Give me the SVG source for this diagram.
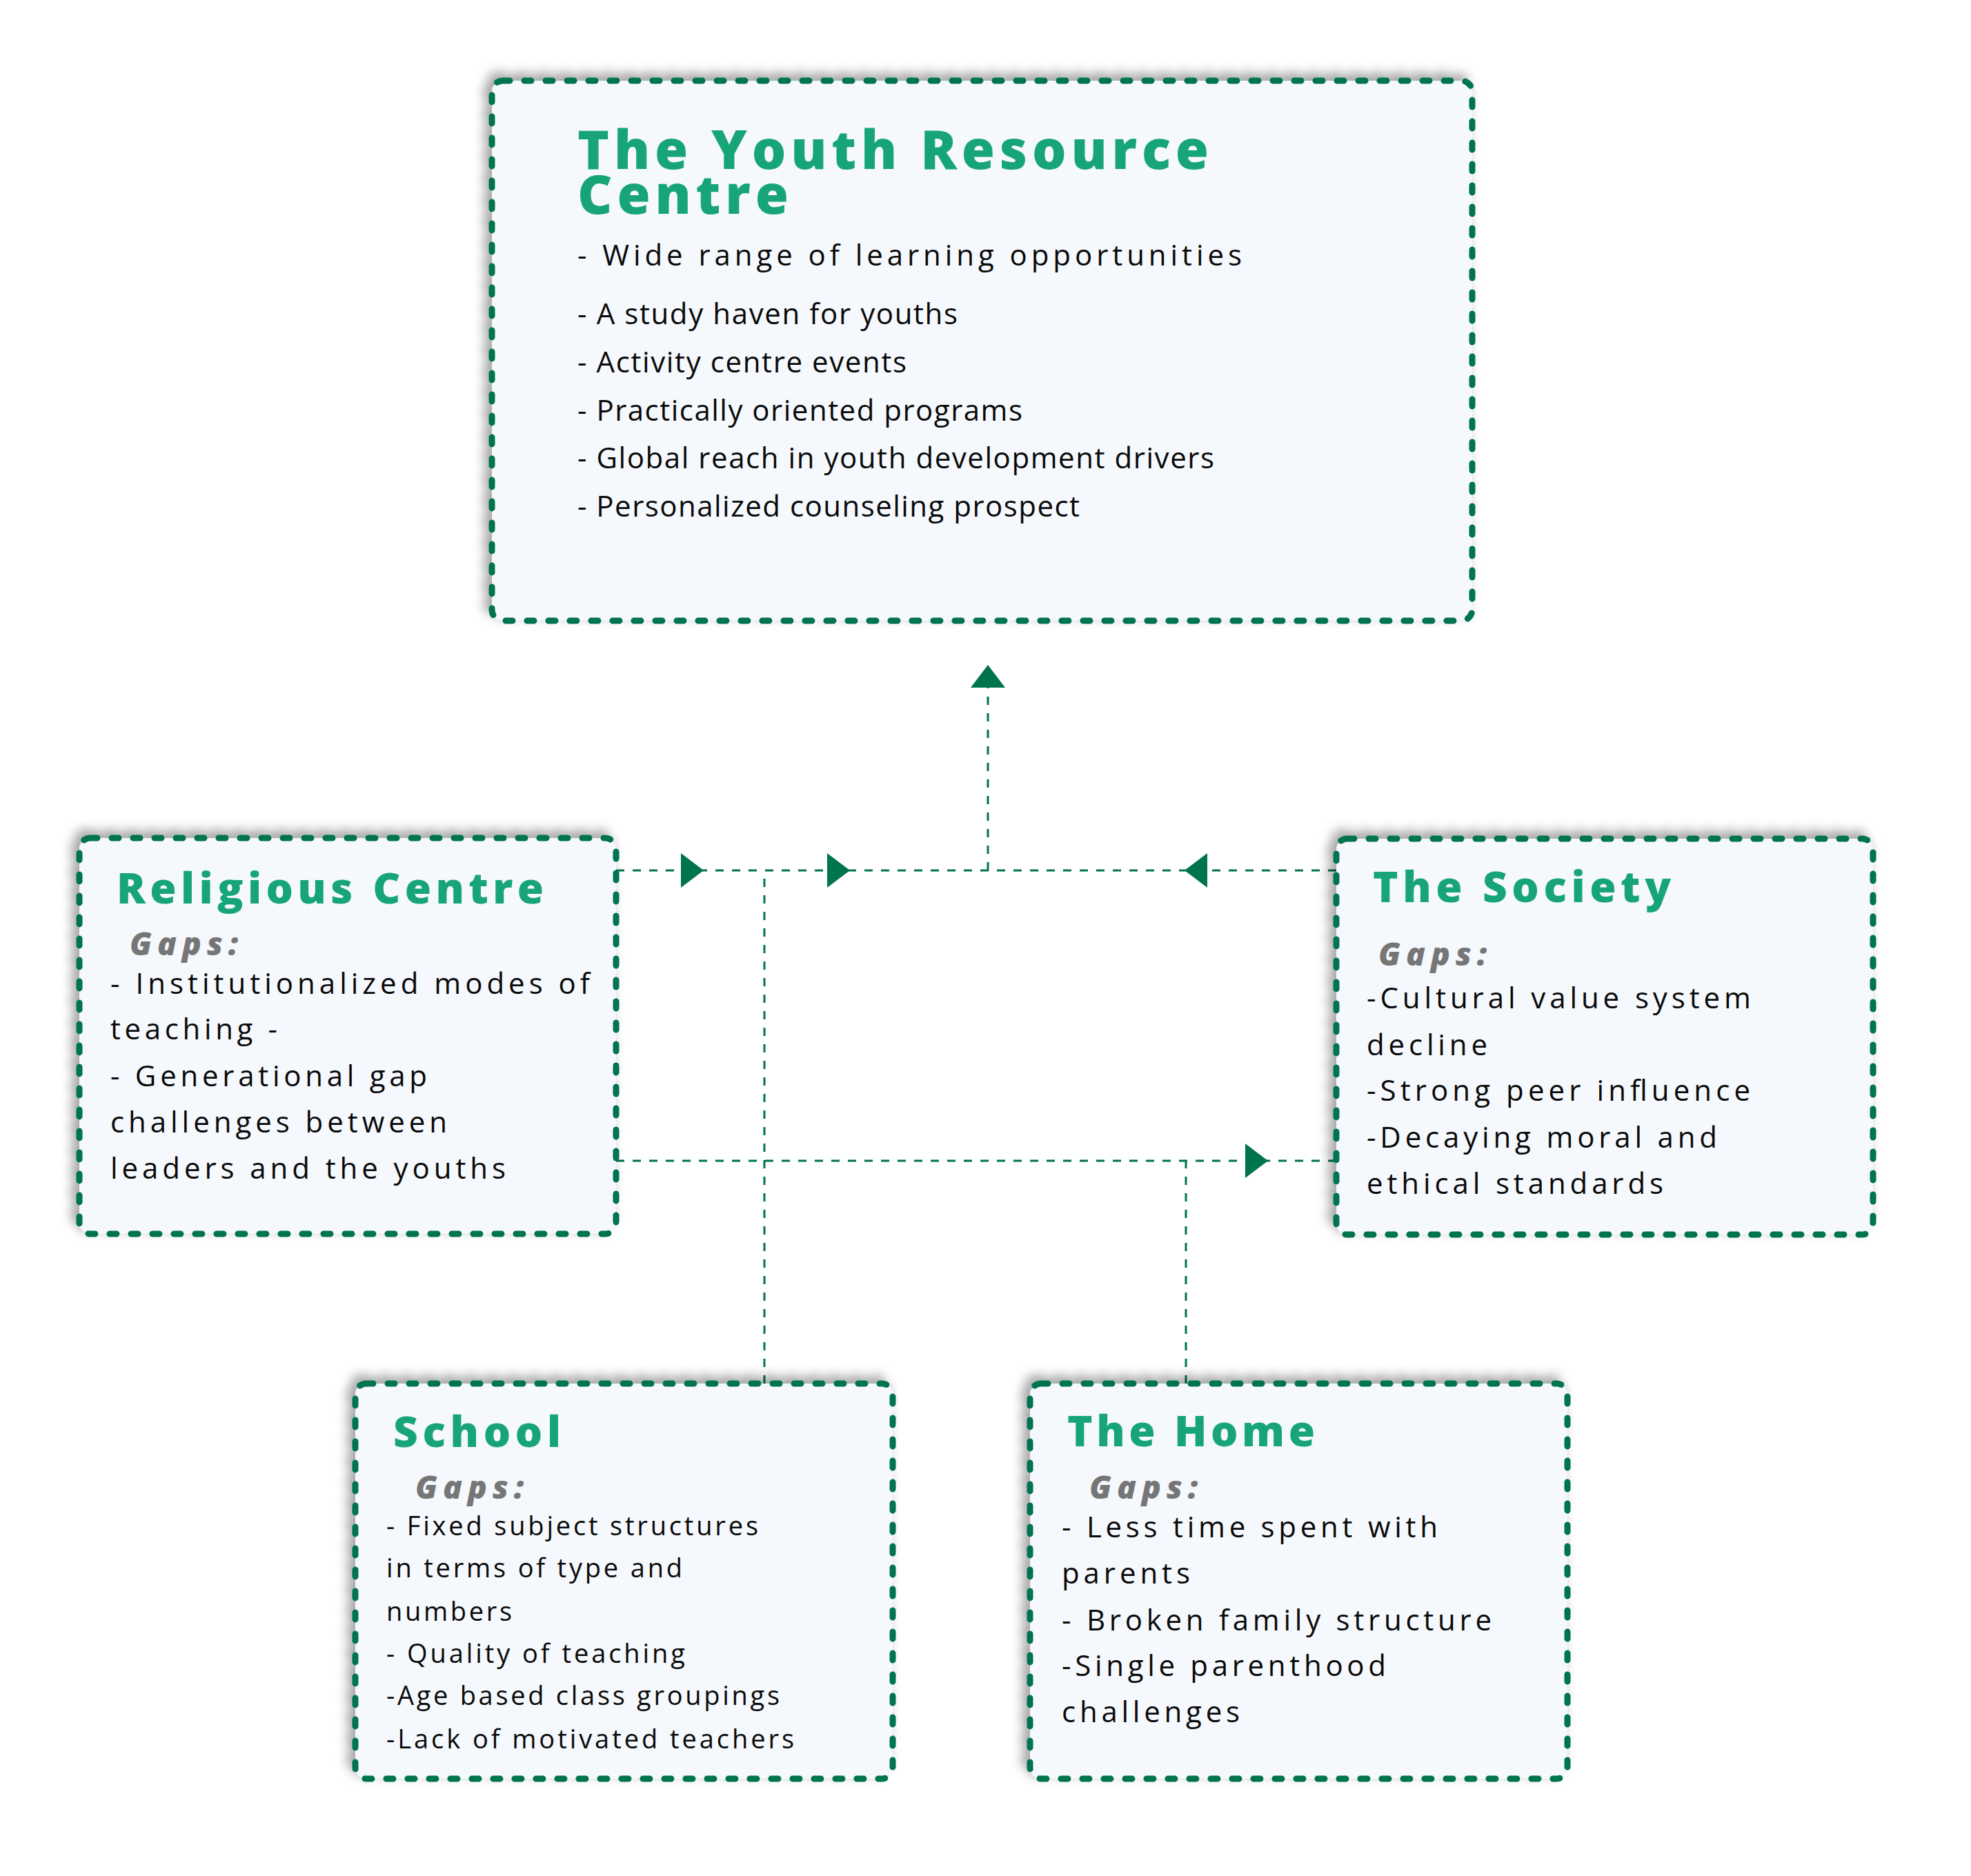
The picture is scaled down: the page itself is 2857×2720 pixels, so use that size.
<svg xmlns="http://www.w3.org/2000/svg" width="2857" height="2720" viewBox="0 0 2857 2720">
<defs>
<filter id="sh" x="-10%" y="-10%" width="120%" height="120%">
<feDropShadow dx="-8" dy="-8" stdDeviation="8" flood-color="#000" flood-opacity="0.35"/>
</filter>
<polygon id="arrR" points="0,0 -33,-25 -33,25"/>
<style>
.box{fill:#F5F8FC;stroke:#00734F;stroke-width:9;stroke-dasharray:10 21;stroke-linecap:round;filter:url(#sh)}
text{font-family:"Open Sans","Liberation Sans",sans-serif}
.title{font-weight:800;fill:#17A577;font-size:62px}
.big{font-size:78px}
.gaps{font-weight:800;font-style:italic;fill:#767676;font-size:46px}
.body{fill:#0A0A0A;font-size:42px;font-weight:500}
.small{font-size:38px}
.conn{stroke:#00734F;stroke-width:3;stroke-dasharray:12 12;fill:none}
.arr{fill:#00734F}
</style>
</defs>
<rect width="2857" height="2720" fill="#FFFFFF"/>
<g id="connectors">
<path class="conn" d="M893,1262 H1937"/>
<path class="conn" d="M1432,1262 V997"/>
<path class="conn" d="M1108,2006 V1262"/>
<path class="conn" d="M893,1683 H1937"/>
<path class="conn" d="M1719,2006 V1683"/>
<use href="#arrR" class="arr" transform="translate(1020,1262)"/>
<use href="#arrR" class="arr" transform="translate(1232,1262)"/>
<use href="#arrR" class="arr" transform="translate(1717,1262) rotate(180)"/>
<use href="#arrR" class="arr" transform="translate(1432,964) rotate(-90)"/>
<use href="#arrR" class="arr" transform="translate(1838,1683)"/>
</g>
<g id="youth-resource-centre">
<rect class="box" x="713" y="117" width="1421" height="783" rx="16"/>
<text class="title big"><tspan x="837" y="245" textLength="915" lengthAdjust="spacing">The Youth Resource</tspan><tspan x="837" y="310" textLength="306" lengthAdjust="spacing">Centre</tspan></text>
<text class="body" x="837" y="385" textLength="963" lengthAdjust="spacing">- Wide range of learning opportunities</text>
<text class="body" x="837" y="470" textLength="551" lengthAdjust="spacing">- A study haven for youths</text>
<text class="body" x="837" y="540" textLength="477" lengthAdjust="spacing">- Activity centre events</text>
<text class="body" x="837" y="610" textLength="645" lengthAdjust="spacing">- Practically oriented programs</text>
<text class="body" x="837" y="679" textLength="923" lengthAdjust="spacing">- Global reach in youth development drivers</text>
<text class="body" x="837" y="749" textLength="728" lengthAdjust="spacing">- Personalized counseling prospect</text>
</g>
<g id="religious-centre">
<rect class="box" x="115" y="1215" width="778" height="574" rx="16"/>
<text class="title" x="169" y="1310" textLength="619" lengthAdjust="spacing">Religious Centre</text>
<text class="gaps" x="188" y="1385" textLength="157" lengthAdjust="spacing">Gaps:</text>
<text class="body" x="160" y="1441" textLength="695" lengthAdjust="spacing">- Institutionalized modes of</text>
<text class="body" x="160" y="1507" textLength="242" lengthAdjust="spacing">teaching -</text>
<text class="body" x="160" y="1575" textLength="459" lengthAdjust="spacing">- Generational gap</text>
<text class="body" x="160" y="1642" textLength="488" lengthAdjust="spacing">challenges between</text>
<text class="body" x="160" y="1709" textLength="573" lengthAdjust="spacing">leaders and the youths</text>
</g>
<g id="the-society">
<rect class="box" x="1937" y="1216" width="778" height="574" rx="16"/>
<text class="title" x="1990" y="1308" textLength="432" lengthAdjust="spacing">The Society</text>
<text class="gaps" x="1998" y="1400" textLength="157" lengthAdjust="spacing">Gaps:</text>
<text class="body" x="1981" y="1462" textLength="557" lengthAdjust="spacing">-Cultural value system</text>
<text class="body" x="1981" y="1530" textLength="175" lengthAdjust="spacing">decline</text>
<text class="body" x="1981" y="1596" textLength="556" lengthAdjust="spacing">-Strong peer influence</text>
<text class="body" x="1981" y="1664" textLength="508" lengthAdjust="spacing">-Decaying moral and</text>
<text class="body" x="1981" y="1731" textLength="430" lengthAdjust="spacing">ethical standards</text>
</g>
<g id="school">
<rect class="box" x="515" y="2006" width="779" height="573" rx="16"/>
<text class="title" x="570" y="2098" textLength="243" lengthAdjust="spacing">School</text>
<text class="gaps" x="602" y="2173" textLength="157" lengthAdjust="spacing">Gaps:</text>
<text class="body small" x="560" y="2226" textLength="539" lengthAdjust="spacing">- Fixed subject structures</text>
<text class="body small" x="560" y="2287" textLength="429" lengthAdjust="spacing">in terms of type and</text>
<text class="body small" x="560" y="2350" textLength="182" lengthAdjust="spacing">numbers</text>
<text class="body small" x="560" y="2411" textLength="433" lengthAdjust="spacing">- Quality of teaching</text>
<text class="body small" x="560" y="2472" textLength="570" lengthAdjust="spacing">-Age based class groupings</text>
<text class="body small" x="560" y="2535" textLength="591" lengthAdjust="spacing">-Lack of motivated teachers</text>
</g>
<g id="the-home">
<rect class="box" x="1493" y="2006" width="779" height="573" rx="16"/>
<text class="title" x="1547" y="2097" textLength="359" lengthAdjust="spacing">The Home</text>
<text class="gaps" x="1579" y="2173" textLength="157" lengthAdjust="spacing">Gaps:</text>
<text class="body" x="1539" y="2229" textLength="545" lengthAdjust="spacing">- Less time spent with</text>
<text class="body" x="1539" y="2296" textLength="186" lengthAdjust="spacing">parents</text>
<text class="body" x="1539" y="2364" textLength="623" lengthAdjust="spacing">- Broken family structure</text>
<text class="body" x="1539" y="2430" textLength="470" lengthAdjust="spacing">-Single parenthood</text>
<text class="body" x="1539" y="2497" textLength="258" lengthAdjust="spacing">challenges</text>
</g>
</svg>
